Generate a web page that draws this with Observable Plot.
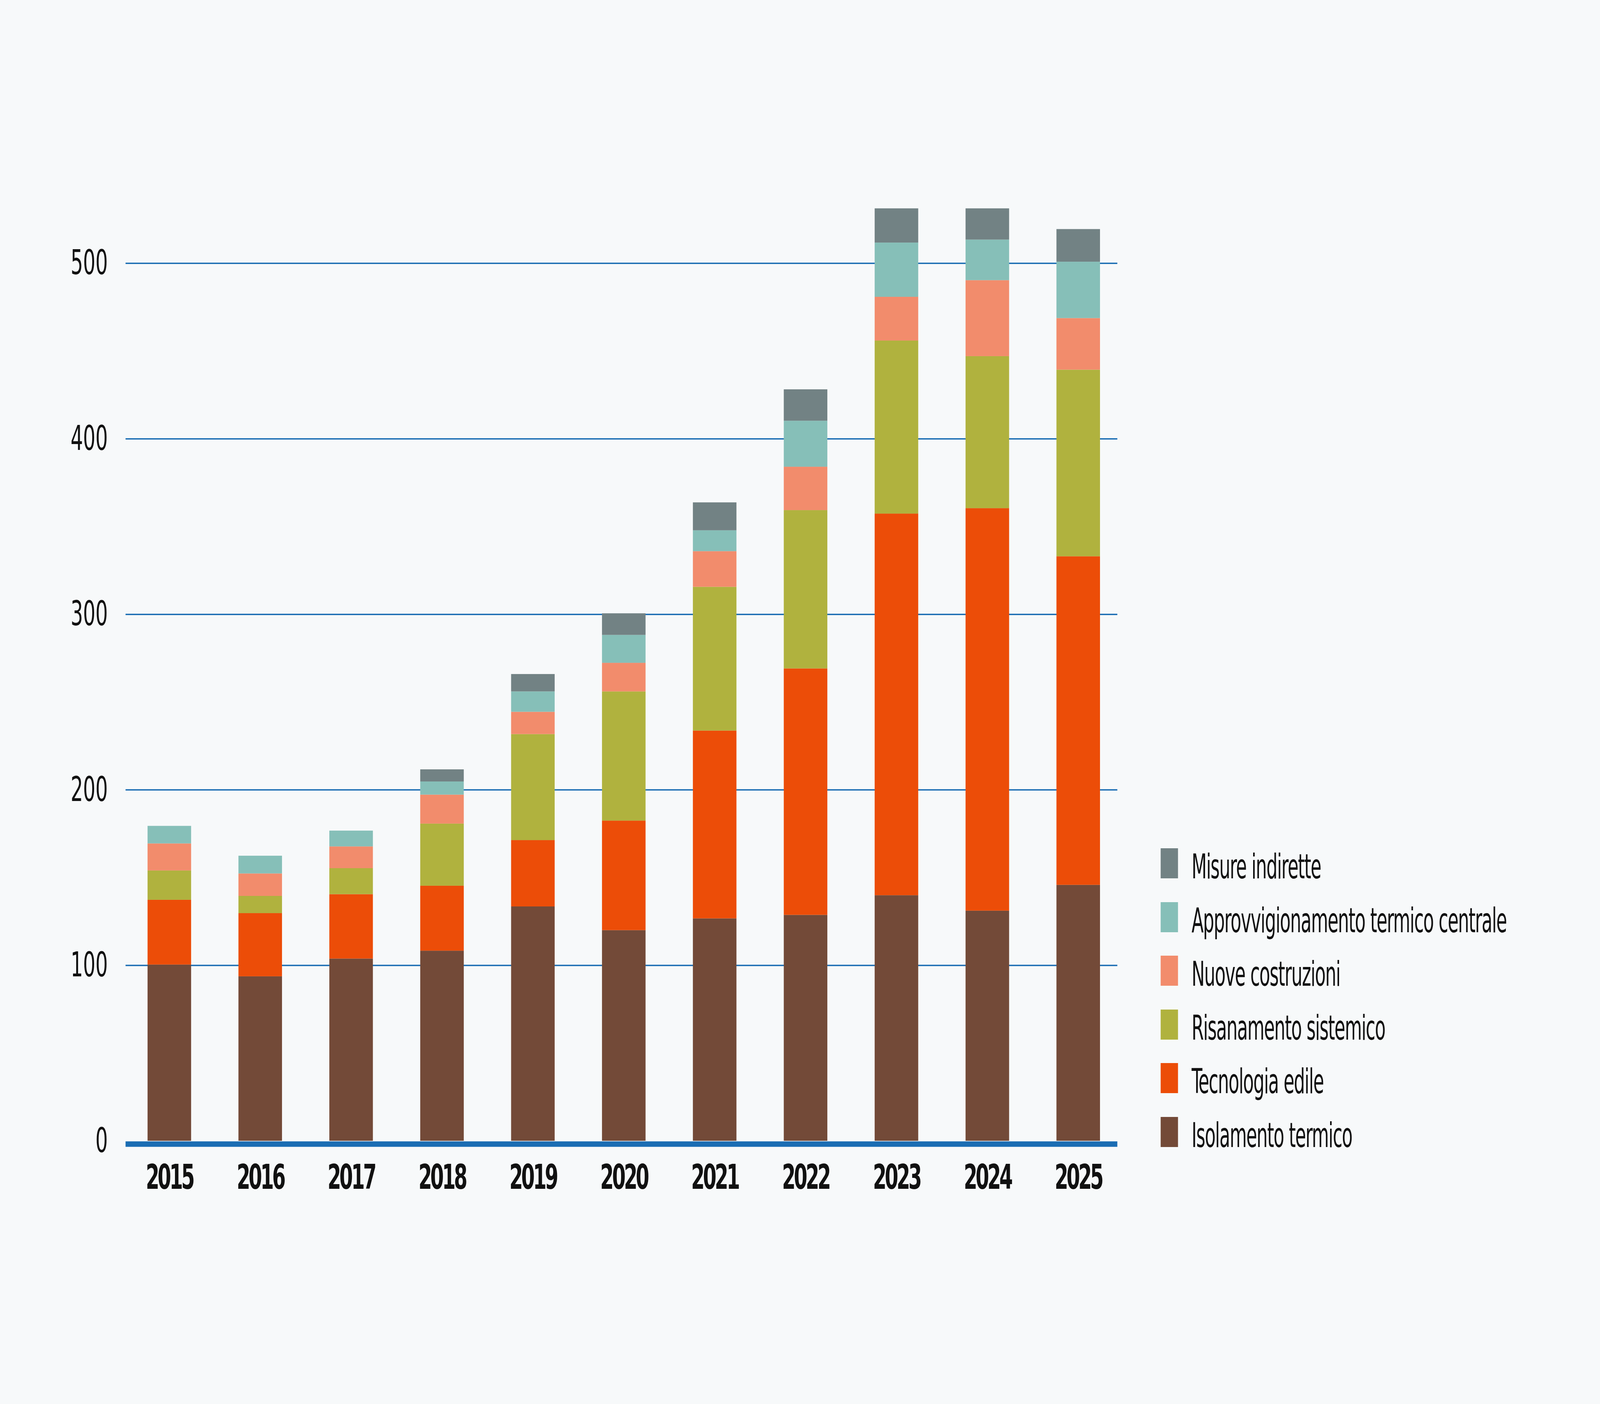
<!DOCTYPE html>
<html>
<head>
<meta charset="utf-8">
<script src="https://cdn.jsdelivr.net/npm/d3@7"></script>
<script src="https://cdn.jsdelivr.net/npm/@observablehq/plot@0.6"></script>
<style>
  html, body { margin: 0; padding: 0; background: #f7f9fa; overflow: hidden; width: 100%; height: 100%; }
  #outer { position: relative; overflow: hidden; background: #f7f9fa; width: 100%; height: 100%; }
  #wrap { position: absolute; left: 0; top: 0; width: 7200px; height: 3595px; background: #f7f9fa; transform-origin: 0 0; }
  #legend { position: absolute; left: 0; top: 0; }
  .row { position: absolute; white-space: nowrap; line-height: 77px;
         font-family: "Liberation Sans Narrow", "DejaVu Sans Condensed", "Roboto", sans-serif;
         font-size: 88px; color: #111; letter-spacing: -2.4px; }
  .sw { display: inline-block; width: 78px; height: 77px; margin-right: 61px; vertical-align: baseline; }
  g[aria-label="x-axis tick label"] text { letter-spacing: -8px; }
</style>
</head>
<body>
<div id="outer"><div id="wrap"><div id="chart"></div><div id="legend"></div></div></div>
<script>
const years = ["2015","2016","2017","2018","2019","2020","2021","2022","2023","2024","2025"];
const categories = ["Isolamento termico","Tecnologia edile","Risanamento sistemico","Nuove costruzioni","Approvvigionamento termico centrale","Misure indirette"];
const colors = ["#734a38","#ec4d08","#b0b23e","#f28c6c","#86bfb8","#728284"];

const isolamento    = [100.4, 93.7, 103.8, 108.3, 133.5, 120.0, 126.7, 128.7, 139.9, 131.1, 145.8];
const tecnologia    = [ 36.9, 36.0,  36.7,  37.0,  37.8,  62.4, 107.0, 140.4, 217.4, 229.3, 187.2];
const risanamento   = [ 16.7,  9.8,  14.8,  35.4,  60.4,  73.6,  81.9,  90.2,  98.6,  86.6, 106.3];
const nuove         = [ 15.4, 12.8,  12.4,  16.5,  12.7,  16.3,  20.3,  24.7,  24.9,  43.3,  29.4];
const approvv       = [ 10.0, 10.1,   9.0,   7.5,  11.6,  15.9,  11.9,  26.2,  30.9,  23.1,  32.1];
const misure        = [  0.0,  0.0,   0.0,   6.9,   9.9,  12.3,  15.9,  17.9,  19.5,  17.8,  18.6];

const yTicks = [0, 100, 200, 300, 400, 500];

const series = [isolamento, tecnologia, risanamento, nuove, approvv, misure];
const table = [];
years.forEach((yr, i) => {
  categories.forEach((c, k) => table.push({year: yr, cat: c, value: series[k][i]}));
});

const chart = Plot.plot({
  width: 7200,
  height: 3595,
  marginLeft: 565,
  marginRight: 2172,
  marginTop: 449,
  marginBottom: 674,
  style: {background: "transparent", fontFamily: "DejaVu Sans", color: "#111"},
  x: {type: "band", domain: years, paddingInner: 0.521, paddingOuter: 0.215, align: 0.557, axis: null},
  y: {domain: [0, 550], axis: null},
  color: {domain: categories, range: colors},
  marks: [
    Plot.ruleY(yTicks.filter(d => d > 0), {stroke: "#1a6db3", strokeWidth: 3.5}),
    Plot.barY(table, {x: "year", y: "value", fill: "cat", order: categories}),
    Plot.ruleY([0], {stroke: "#1a6db3", strokeWidth: 14, dy: 8}),
    Plot.axisY(yTicks, {label: null, tickSize: 0, tickPadding: 80, fontSize: 88, fontWeight: 500, tickFormat: d => String(d)}),
    Plot.axisX({label: null, tickSize: 0, tickPadding: 60, fontSize: 88, fontWeight: "bold"})
  ]
});
chart.style.maxWidth = "none";
document.getElementById("chart").appendChild(chart);

const legend = document.getElementById("legend");
const legendOrder = categories.slice().reverse();
const legendColors = colors.slice().reverse();
legendOrder.forEach((c, i) => {
  const row = document.createElement("div");
  row.className = "row";
  row.style.left = "5223px";
  row.style.top = (2172 + i * 137.5) + "px";
  const sw = document.createElement("span");
  sw.className = "sw";
  sw.style.background = legendColors[i];
  const t = document.createElement("span");
  t.textContent = c;
  row.appendChild(sw);
  row.appendChild(t);
  legend.appendChild(row);
});

function fit() {
  const w = window.innerWidth || document.documentElement.clientWidth;
  const h = window.innerHeight || document.documentElement.clientHeight;
  const sx = w / 7200, sy = h / 3595;
  document.getElementById("wrap").style.transform = "scale(" + sx + "," + sy + ")";
}
fit();
window.addEventListener("resize", fit);
</script>
</body>
</html>
